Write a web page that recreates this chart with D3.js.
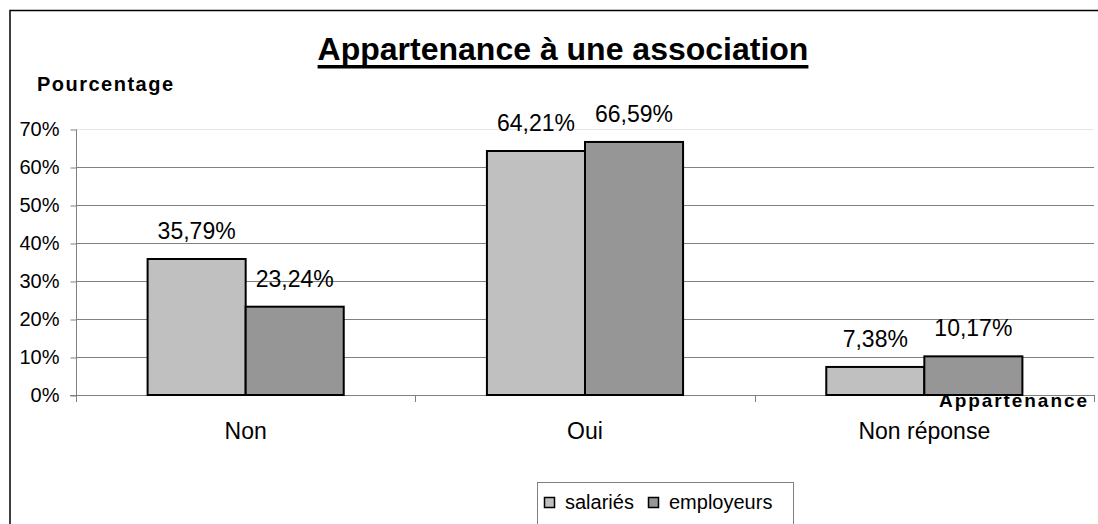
<!DOCTYPE html>
<html>
<head>
<meta charset="utf-8">
<script src="https://cdn.jsdelivr.net/npm/d3@7"></script>
<style>
  body { margin: 0; background: #fff; }
  svg text { font-family: "Liberation Sans", Arial, sans-serif; fill: #000; }
</style>
</head>
<body>
<script>
"use strict";
(function(){
    // valeurs
    const categories = ["Non", "Oui", "Non réponse"];
    const seriesNames = ["salariés", "employeurs"];
    const salaries = [35.79, 64.21, 7.38];
    const employeurs = [23.24, 66.59, 10.17];
    const yTicks = [0, 10, 20, 30, 40, 50, 60, 70];

    const colors = ["#c0c0c0", "#969696"];

    const measurements = {
        width: 1098,
        height: 524,
        left: 76,
        right: 1094,
        top: 129,
        bottom: 395
    }

    const svg = d3.select("body").append("svg")
        .attr("width", measurements.width)
        .attr("height", measurements.height);

    // cadre du graphique
    svg.append("path")
        .attr("d", "M10," + measurements.height + "V10.5H" + measurements.width)
        .attr("fill", "none")
        .attr("stroke", "#000")
        .attr("stroke-width", 1.5);

    const scaleX = d3.scaleBand()
        .domain(categories)
        .range([measurements.left, measurements.right])
        .paddingInner(0.422)
        .paddingOuter(0.211);

    const scaleSeries = d3.scaleBand()
        .domain(seriesNames)
        .range([0, scaleX.bandwidth()]);

    const scaleY = d3.scaleLinear()
        .domain([0, 70])
        .range([measurements.bottom, measurements.top]);

    // lignes de quadrillage
    svg.append("g").selectAll("line")
        .data(yTicks.filter(d => d > 0))
        .enter().append("line")
        .attr("x1", measurements.left)
        .attr("x2", measurements.right)
        .attr("y1", d => Math.round(scaleY(d)) + 0.5)
        .attr("y2", d => Math.round(scaleY(d)) + 0.5)
        .attr("stroke", d => d === 70 ? "#e6e6e6" : "#808080")
        .attr("stroke-width", 1);

    // axe Y
    const yAxis = d3.axisLeft(scaleY)
        .tickValues(yTicks)
        .tickSize(6)
        .tickPadding(11)
        .tickFormat(d => d + "%");

    const gy = svg.append("g")
        .attr("transform", "translate(" + (measurements.left + 0.5) + ",0.5)")
        .call(yAxis);
    gy.select(".domain").attr("stroke", "#808080").attr("d", "M0," + scaleY(70) + "V" + scaleY(0));
    gy.selectAll(".tick line").attr("stroke", "#808080");
    gy.selectAll(".tick text")
        .style("font-size", "20px")
        .attr("font-family", null);

    // axe X
    const step = scaleX.step();
    const boundaries = d3.range(categories.length + 1).map(i => measurements.left + i * step);
    svg.append("line")
        .attr("x1", measurements.left - 6)
        .attr("x2", measurements.right)
        .attr("y1", measurements.bottom + 0.5)
        .attr("y2", measurements.bottom + 0.5)
        .attr("stroke", "#808080");
    svg.append("g").selectAll("line")
        .data(boundaries)
        .enter().append("line")
        .attr("x1", d => Math.round(d) + 0.5)
        .attr("x2", d => Math.round(d) + 0.5)
        .attr("y1", measurements.bottom)
        .attr("y2", measurements.bottom + 7)
        .attr("stroke", "#808080");

    svg.append("g").selectAll("text")
        .data(categories)
        .enter().append("text")
        .attr("x", d => scaleX(d) + scaleX.bandwidth() / 2)
        .attr("y", 439)
        .attr("text-anchor", "middle")
        .style("font-size", "23px")
        .text(d => d);

    // barres
    const rows = categories.map((c, i) => ({ cat: c, values: [salaries[i], employeurs[i]] }));
    const groups = svg.append("g").selectAll("g")
        .data(rows)
        .enter().append("g")
        .attr("transform", d => "translate(" + scaleX(d.cat) + ",0)");

    groups.selectAll("rect")
        .data(d => d.values.map((v, j) => ({ name: seriesNames[j], value: v, j: j })))
        .enter().append("rect")
        .attr("x", d => scaleSeries(d.name))
        .attr("y", d => scaleY(d.value))
        .attr("width", scaleSeries.bandwidth())
        .attr("height", d => scaleY(0) - scaleY(d.value))
        .attr("fill", d => colors[d.j])
        .attr("stroke", "#000")
        .attr("stroke-width", 2);

    groups.selectAll("text")
        .data(d => d.values.map((v, j) => ({ name: seriesNames[j], value: v })))
        .enter().append("text")
        .attr("x", d => scaleSeries(d.name) + scaleSeries.bandwidth() / 2)
        .attr("y", d => scaleY(d.value) - 20)
        .attr("text-anchor", "middle")
        .style("font-size", "23px")
        .text(d => d3.format(".2f")(d.value).replace(".", ",") + "%");

    // titres
    const title = svg.append("text")
        .attr("x", 563)
        .attr("y", 60)
        .attr("text-anchor", "middle")
        .style("font-size", "32px")
        .style("font-weight", "bold")
        .text("Appartenance à une association");
    const titleLen = title.node().getComputedTextLength();
    svg.append("rect")
        .attr("x", 563 - titleLen / 2)
        .attr("y", 65)
        .attr("width", titleLen)
        .attr("height", 3.5)
        .attr("fill", "#000");

    svg.append("text")
        .attr("x", 37)
        .attr("y", 91)
        .attr("textLength", 136)
        .attr("lengthAdjust", "spacing")
        .style("font-size", "20px")
        .style("font-weight", "bold")
        .text("Pourcentage");

    svg.append("text")
        .attr("x", 939)
        .attr("y", 407)
        .attr("textLength", 148)
        .attr("lengthAdjust", "spacing")
        .style("font-size", "19px")
        .style("font-weight", "bold")
        .text("Appartenance");

    // légende
    const legend = svg.append("g");
    legend.append("rect")
        .attr("x", 537.5)
        .attr("y", 482.5)
        .attr("width", 256)
        .attr("height", 60)
        .attr("fill", "#fff")
        .attr("stroke", "#808080");

    const legendX = [544, 648];
    seriesNames.forEach((name, j) => {
        legend.append("rect")
            .attr("x", legendX[j] + 0.5)
            .attr("y", 497.5)
            .attr("width", 10)
            .attr("height", 10)
            .attr("fill", colors[j])
            .attr("stroke", "#000")
            .attr("stroke-width", 1.5);
        legend.append("text")
            .attr("x", legendX[j] + 21)
            .attr("y", 509)
            .style("font-size", "20px")
            .text(name);
    });
})()
</script>
</body>
</html>
